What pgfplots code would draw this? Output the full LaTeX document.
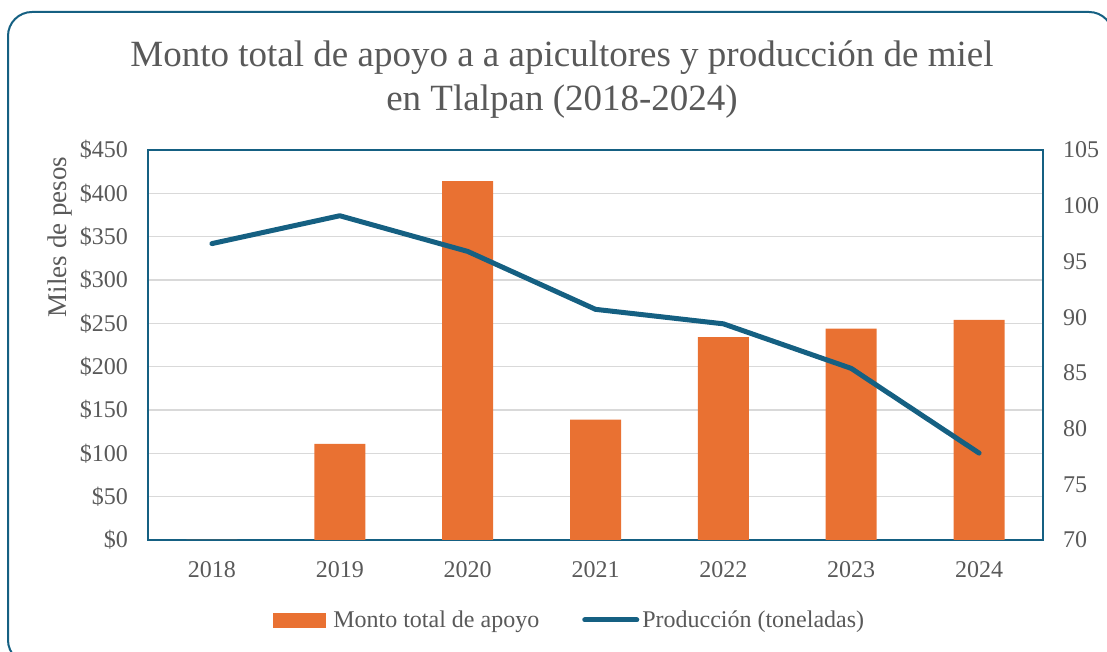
\documentclass[border=0pt]{standalone}
\usepackage{fontspec}
\setmainfont{Liberation Serif}
\usepackage{pgfplots}
\pgfplotsset{compat=1.18}
\definecolor{orng}{HTML}{E97132}
\definecolor{tealc}{HTML}{156082}
\definecolor{txt}{HTML}{595959}
\definecolor{grd}{HTML}{D9D9D9}
\begin{document}
\begin{tikzpicture}[x=1pt,y=1pt]
\useasboundingbox (0,0) rectangle (1107,652);
\draw[tealc, line width=2pt, rounded corners=24pt] (8,-12) rectangle (1113,640);
\node[txt, font=\fontsize{37}{44}\selectfont, anchor=base] at (562,585) {Monto total de apoyo a a apicultores y producción de miel};
\node[txt, font=\fontsize{37}{44}\selectfont, anchor=base] at (562,541) {en Tlalpan (2018-2024)};
\begin{axis}[at={(148pt,112pt)}, anchor=south west, width=895pt, height=390pt, scale only axis,
  xmin=-0.5, xmax=6.5, ymin=0, ymax=450,
  ytick={0,50,...,450},
  yticklabels={\$0,\$50,\$100,\$150,\$200,\$250,\$300,\$350,\$400,\$450},
  xtick={0,...,6}, xticklabels={2018,2019,2020,2021,2022,2023,2024},
  axis line style={tealc, line width=1.5pt},
  ymajorgrids, grid style={grd, line width=1.5pt},
  major tick length=0pt,
  tick label style={txt, font=\fontsize{24}{28}\selectfont, inner sep=0pt},
  yticklabel shift=20pt, xticklabel shift=21pt,
  ylabel={Miles de pesos},
  ylabel style={txt, font=\fontsize{27}{30}\selectfont, at={(axis description cs:-0.098,0.777)}, anchor=center},
  bar width=51pt,
]
\addplot[ybar, fill=orng, draw=none] coordinates {(0,0) (1,111) (2,414) (3,139) (4,234) (5,244) (6,254)};
\end{axis}
\begin{axis}[at={(148pt,112pt)}, anchor=south west, width=895pt, height=390pt, scale only axis,
  xmin=-0.5, xmax=6.5, ymin=70, ymax=105,
  axis x line=none, axis y line*=right,
  ytick={70,75,...,105},
  yticklabels={70,75,80,85,90,95,100,105},
  axis line style={tealc, line width=1.5pt},
  major tick length=0pt,
  tick label style={txt, font=\fontsize{24}{28}\selectfont, inner sep=0pt},
  yticklabel shift=20pt,
  legend columns=2,
  legend style={at={(axis description cs:0.471,-0.205)}, anchor=center, draw=none, fill=none,
    font=\fontsize{24}{28}\selectfont, text=txt, inner sep=0pt,
    /tikz/every odd column/.append style={column sep=6pt},
    /tikz/every even column/.append style={column sep=41pt}},
  legend cell align=left,
]
\addlegendimage{legend image code/.code={\fill[orng] (0pt,-7pt) rectangle (52pt,7pt);}}
\addlegendentry{Monto total de apoyo}
\addplot[tealc, line width=5pt, line cap=round, line join=round,
  legend image code/.code={\draw[tealc, line width=5pt, line cap=round] (2pt,0pt) -- (49pt,0pt);
    \draw[overlay, tealc, line width=5pt, line cap=round] (48pt,0pt) -- (54pt,0pt);}]
  coordinates {(0,96.6) (1,99.1) (2,95.9) (3,90.7) (4,89.4) (5,85.4) (6,77.8)};
\addlegendentry{Producción (toneladas)}
\end{axis}
\end{tikzpicture}
\end{document}
